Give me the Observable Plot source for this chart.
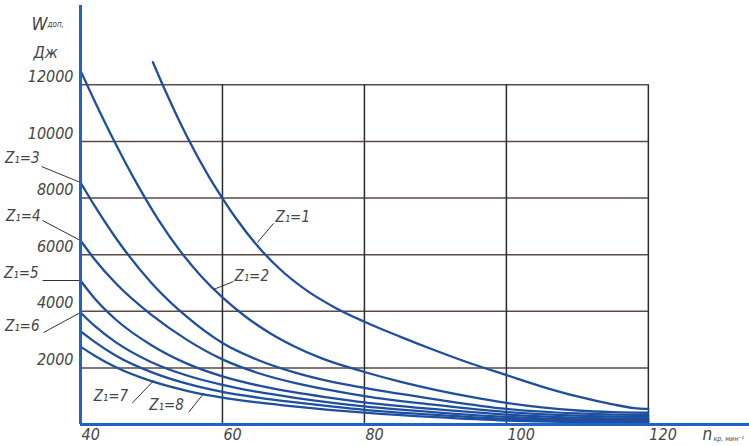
<!DOCTYPE html>
<html><head><meta charset="utf-8">
<script src="https://cdn.jsdelivr.net/npm/d3@7"></script>
<script src="https://cdn.jsdelivr.net/npm/@observablehq/plot@0.6"></script>
<style>body{margin:0;background:#fff}#chart{width:749px;height:446px}</style>
</head><body><div id="chart"></div>
<script>
// ---- data ----
const xTicks = [40, 60, 80, 100, 120];
const yTicks = [2000, 4000, 6000, 8000, 10000, 12000];

const z1N = [50.2, 52, 55, 58, 60, 62, 65, 68, 72, 76, 80, 85, 90, 95, 100, 105, 110, 115, 118, 120];
const z1W = [12800, 11760, 10170, 8790, 7990, 7250, 6290, 5510, 4710, 4110, 3630, 3105, 2615, 2155, 1745, 1340, 990, 710, 580, 550];

const z2N = [40, 42, 45, 48, 51, 54, 57, 60, 63, 67, 70, 74, 80, 85, 90, 95, 100, 105, 110, 115, 120];
const z2W = [12500, 11420, 9890, 8480, 7220, 6140, 5240, 4490, 3860, 3180, 2775, 2335, 1855, 1515, 1225, 975, 765, 605, 495, 435, 415];

const nStd = [40, 42, 45, 50, 55, 60, 65, 70, 75, 80, 90, 100, 110, 120];
const z3W = [8548, 7720, 6580, 5000, 3800, 2880, 2280, 1850, 1530, 1290, 890, 550, 390, 330];
const z4W = [6499, 5830, 4980, 3870, 2990, 2300, 1820, 1480, 1220, 1000, 690, 440, 310, 260];
const z5W = [5086, 4450, 3700, 2800, 2150, 1700, 1380, 1140, 950, 780, 540, 350, 240, 200];
const z6W = [3956, 3480, 2900, 2200, 1730, 1400, 1150, 950, 780, 640, 430, 270, 180, 150];
const z7W = [3300, 2920, 2430, 1850, 1440, 1150, 950, 790, 650, 520, 340, 200, 130, 110];
const z8W = [2750, 2430, 2020, 1530, 1190, 950, 780, 640, 520, 420, 260, 140, 90, 70];

const curveNames = ["Z1", "Z2", "Z3", "Z4", "Z5", "Z6", "Z7", "Z8"];
const curveN = [z1N, z2N, nStd, nStd, nStd, nStd, nStd, nStd];
const curveW = [z1W, z2W, z3W, z4W, z5W, z6W, z7W, z8W];

// curve labels: text, point on curve (n, W), end of leader near the text (n, W)
const labelText = ["Z₁=1", "Z₁=2", "Z₁=3", "Z₁=4", "Z₁=5", "Z₁=6", "Z₁=7", "Z₁=8"];
const leaderCurveN = [64.93, 58.73, 40, 40, 40, 40, 50.33, 57.37];
const leaderCurveW = [6429, 4768, 8548, 6499, 5086, 3956, 1554, 1106];
const leaderTextN = [67.18, 61.55, 34.51, 34.65, 34.65, 34.79, 47.28, 55.26];
const leaderTextW = [7100, 5051, 9113, 7206, 5086, 3250, 752, 434];

// ---- presentation ----
const FONT = "'Liberation Sans Narrow','DejaVu Sans Condensed','DejaVu Sans',sans-serif";
const labelStyle = [
  {anchor: "start", dx: 2, dy: -6},
  {anchor: "start", dx: 1, dy: -5},
  {anchor: "end", dx: -2, dy: -8},
  {anchor: "end", dx: -2, dy: -4},
  {anchor: "end", dx: -4, dy: -7},
  {anchor: "end", dx: -4, dy: -6},
  {anchor: "end", dx: -4, dy: -7},
  {anchor: "end", dx: -5, dy: -7}
];
const CURVE = "#1d4f9e", AXIS = "#2262c6", TXT = "#444";

const rows = [];
curveNames.forEach((name, k) => curveN[k].forEach((n, i) => rows.push({z: name, n, W: curveW[k][i]})));
const ann = labelText.map((label, i) => ({label, cn: leaderCurveN[i], cW: leaderCurveW[i], tn: leaderTextN[i], tW: leaderTextW[i]}));

const chart = Plot.plot({
  width: 749, height: 446,
  marginLeft: 80, marginRight: 0, marginTop: 5, marginBottom: 22,
  x: {domain: [40, 134.25]},
  y: {domain: [0, 14800]},
  style: {fontFamily: FONT, background: "#fff", overflow: "visible"},
  marks: [
    Plot.ruleY(yTicks, {x1: 40, x2: 120, stroke: "#5e4944", strokeWidth: 1.5}),
    Plot.ruleX(xTicks.slice(1), {y1: 0, y2: 12000, stroke: "#2a2a2a", strokeWidth: 1.5}),
    Plot.line(rows, {x: "n", y: "W", z: "z", stroke: CURVE, strokeWidth: 2.3, curve: "monotone-x"}),
    Plot.link(ann, {x1: "cn", y1: "cW", x2: "tn", y2: "tW", stroke: "#333", strokeWidth: 1}),
    ...ann.map((d, i) => Plot.text([d], {x: "tn", y: "tW", text: "label", textAnchor: labelStyle[i].anchor,
      dx: labelStyle[i].dx, dy: labelStyle[i].dy, fontSize: 15, fontStyle: "italic", fill: TXT})),
    Plot.ruleX([40], {y1: 0, y2: 14800, stroke: AXIS, strokeWidth: 3}),
    Plot.ruleY([0], {stroke: AXIS, strokeWidth: 3}),
    Plot.axisX(xTicks, {tickSize: 0, tickPadding: 4, textAnchor: "start", dx: 1, fontSize: 16, fontStyle: "italic", fill: TXT, label: null}),
    Plot.axisY(yTicks, {tickSize: 0, tickPadding: 7, dy: -8, fontSize: 16, fontStyle: "italic", fill: TXT, label: null, tickFormat: d => String(d)}),
    Plot.text(["W"], {frameAnchor: "top-left", dx: -33, dy: 12, textAnchor: "end", fontSize: 18, fontStyle: "italic", fill: TXT}),
    Plot.text(["доп,"], {frameAnchor: "top-left", dx: -33, dy: 16, textAnchor: "start", fontSize: 8, fontStyle: "italic", fill: TXT}),
    Plot.text(["Дж"], {frameAnchor: "top-left", dx: -35, dy: 41, textAnchor: "middle", fontSize: 16, fontStyle: "italic", fill: TXT}),
    Plot.text(["n"], {frameAnchor: "bottom-right", dx: -47, dy: 15, textAnchor: "start", fontSize: 17, fontStyle: "italic", fill: TXT}),
    Plot.text(["кр, мин⁻¹"], {frameAnchor: "bottom-right", dx: -36, dy: 16, textAnchor: "start", fontSize: 7, fontStyle: "italic", fill: TXT})
  ]
});
document.getElementById("chart").appendChild(chart);
</script>
</body></html>
